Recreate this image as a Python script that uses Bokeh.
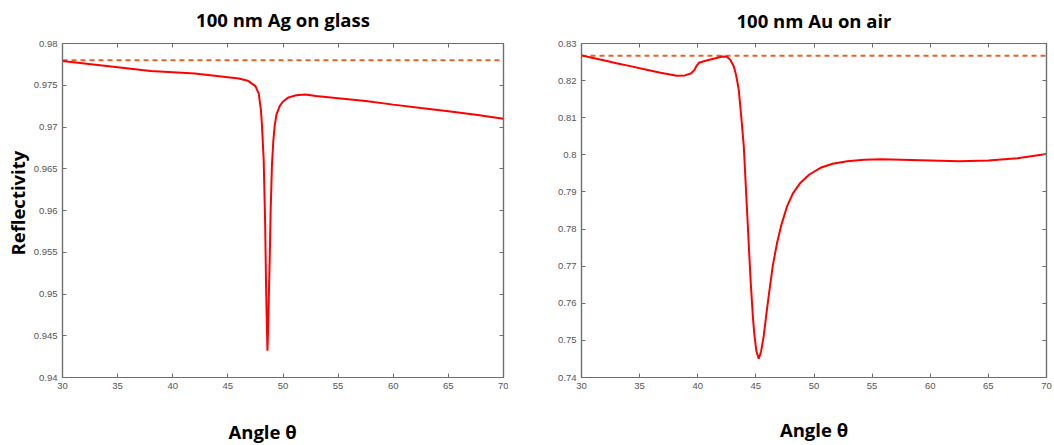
from bokeh.plotting import figure
from bokeh.models import Range1d, LinearAxis, Title, FixedTicker, CustomJSTickFormatter
from bokeh.layouts import row
from bokeh.embed import file_html
from bokeh.resources import INLINE

# ---------------- data ----------------
x_ticks = [30, 35, 40, 45, 50, 55, 60, 65, 70]
ag_y_ticks = [0.94, 0.945, 0.95, 0.955, 0.96, 0.965, 0.97, 0.975, 0.98]
au_y_ticks = [0.74, 0.75, 0.76, 0.77, 0.78, 0.79, 0.80, 0.81, 0.82, 0.83]

ag_angle = [30.0, 32.0, 34.0, 36.0, 38.0, 40.0, 42.0, 44.0, 46.0, 46.8, 47.5, 47.8,
            48.0, 48.1, 48.25, 48.38, 48.47, 48.54, 48.59, 48.65, 48.72, 48.8, 48.88,
            49.0, 49.12, 49.25, 49.41, 49.7, 50.0, 50.5, 51.2, 52.0, 53.0, 55.0, 57.5,
            60.0, 62.5, 65.0, 67.5, 70.0]
ag_refl = [0.9779, 0.9776, 0.9773, 0.9770, 0.9767, 0.97655, 0.9764, 0.9761, 0.9758,
           0.97555, 0.9749, 0.9740, 0.9720, 0.9700, 0.9660, 0.9585, 0.9505, 0.9460,
           0.9432, 0.9460, 0.9500, 0.9545, 0.9600, 0.9655, 0.9683, 0.9702, 0.9715,
           0.9725, 0.97305, 0.97355, 0.9738, 0.97388, 0.9737, 0.97345, 0.9731,
           0.97268, 0.97228, 0.9719, 0.97148, 0.9710]
ag_ref_level = 0.978

au_angle = [30.0, 31.0, 32.0, 33.0, 34.2, 35.5, 36.8, 38.2, 38.9, 39.4, 39.7, 39.9,
            40.1, 40.6, 41.1, 41.6, 42.1, 42.5, 42.8, 43.1, 43.3, 43.53, 43.75, 43.96,
            44.25, 44.54, 44.75, 44.88, 45.05, 45.25, 45.45, 45.68, 45.9, 46.11, 46.45,
            46.83, 47.2, 47.69, 48.2, 48.84, 49.6, 50.56, 51.6, 52.86, 54.3, 55.72,
            57.5, 60.0, 62.5, 65.0, 67.5, 70.0]
au_refl = [0.8268, 0.8261, 0.8254, 0.8247, 0.8239, 0.8230, 0.8221, 0.8213, 0.8214,
           0.8219, 0.8228, 0.8240, 0.8248, 0.8253, 0.8257, 0.8261, 0.8265, 0.8264,
           0.8256, 0.8238, 0.8215, 0.8175, 0.8100, 0.8023, 0.7844, 0.7665, 0.7560,
           0.7513, 0.7470, 0.7451, 0.7470, 0.7513, 0.7570, 0.7621, 0.7700, 0.7764,
           0.7812, 0.7862, 0.7897, 0.7925, 0.7947, 0.7965, 0.7976, 0.7983, 0.7987,
           0.7988, 0.7987, 0.7985, 0.7983, 0.7985, 0.7991, 0.8002]
au_ref_level = 0.8267

titles = ["100 nm Ag on glass", "100 nm Au on air"]
x_label = "Angle θ"
y_label = "Reflectivity"

RED = "#FF0000"
ORANGE = "#E2622B"
AXIS = "#6E6E6E"
TICKTXT = "#555555"
BOLD_FONT = "Open Sans"

fmt = CustomJSTickFormatter(code="return String(parseFloat(tick.toFixed(4)));")


def make_plot(width, mb_left, mb_right, mb_top, mb_bottom, yr, yticks):
    p = figure(width=width, height=445, output_backend="svg", toolbar_location=None,
               x_range=Range1d(30, 70), y_range=Range1d(*yr),
               min_border_left=mb_left, min_border_right=mb_right,
               min_border_top=mb_top, min_border_bottom=mb_bottom,
               x_axis_type=None, y_axis_type=None)
    p.grid.visible = False
    p.outline_line_color = AXIS
    p.outline_line_width = 1.2
    for loc, ticks in (("below", x_ticks), ("left", yticks), ("above", x_ticks), ("right", yticks)):
        ax = LinearAxis(ticker=FixedTicker(ticks=ticks), formatter=fmt)
        ax.axis_line_color = AXIS
        ax.axis_line_width = 1.2
        ax.major_tick_line_color = AXIS
        ax.major_tick_in = 4
        ax.major_tick_out = 0
        ax.minor_tick_line_color = None
        ax.major_label_text_font = "Liberation Sans"
        ax.major_label_text_font_size = "9.5px"
        ax.major_label_text_color = TICKTXT
        ax.major_label_standoff = 5
        if loc in ("above", "right"):
            ax.major_label_text_font_size = "0px"
            ax.major_label_text_color = None
            ax.major_label_standoff = 0
        p.add_layout(ax, loc)
    return p


def add_spacer(p, loc, size):
    # invisible axis whose (white, outward) tick only reserves room in the side panel
    sp = LinearAxis(ticker=FixedTicker(ticks=[30]), axis_line_color=None,
                    major_tick_line_color="#ffffff", minor_tick_line_color=None,
                    major_tick_in=0, major_tick_out=size, minor_tick_out=0,
                    major_label_text_font_size="0px", major_label_text_color=None,
                    major_label_standoff=0)
    p.add_layout(sp, loc)


def add_title(p, text, loc, standoff, align="center", offset=0):
    t = Title(text=text, align=align, offset=offset, standoff=standoff,
              text_font=BOLD_FONT, text_font_style="bold", text_font_size="18.5px",
              text_color="#000000")
    p.add_layout(t, loc)


p1 = make_plot(508, 62, 5, 42, 68, (0.94, 0.98), ag_y_ticks)
p1.line([30, 70], [ag_ref_level, ag_ref_level], line_color=ORANGE, line_width=2, line_dash="5 4")
p1.line(ag_angle, ag_refl, line_color=RED, line_width=2)

p2 = make_plot(546, 73, 8, 43, 66, (0.74, 0.83), au_y_ticks)
p2.line([30, 70], [au_ref_level, au_ref_level], line_color=ORANGE, line_width=2, line_dash="5 4")
p2.line(au_angle, au_refl, line_color=RED, line_width=2)

add_spacer(p1, "above", 12)
add_title(p1, titles[0], "above", 0)
add_spacer(p1, "below", 25)
add_title(p1, x_label, "below", 0, align="left", offset=166)
add_title(p1, y_label, "left", 2, align="left", offset=122)

add_spacer(p2, "above", 11)
add_title(p2, titles[1], "above", 0)
add_spacer(p2, "below", 23)
add_title(p2, x_label, "below", 0)

layout = row(p1, p2)
open("out.html", "w").write(file_html(layout, INLINE))
